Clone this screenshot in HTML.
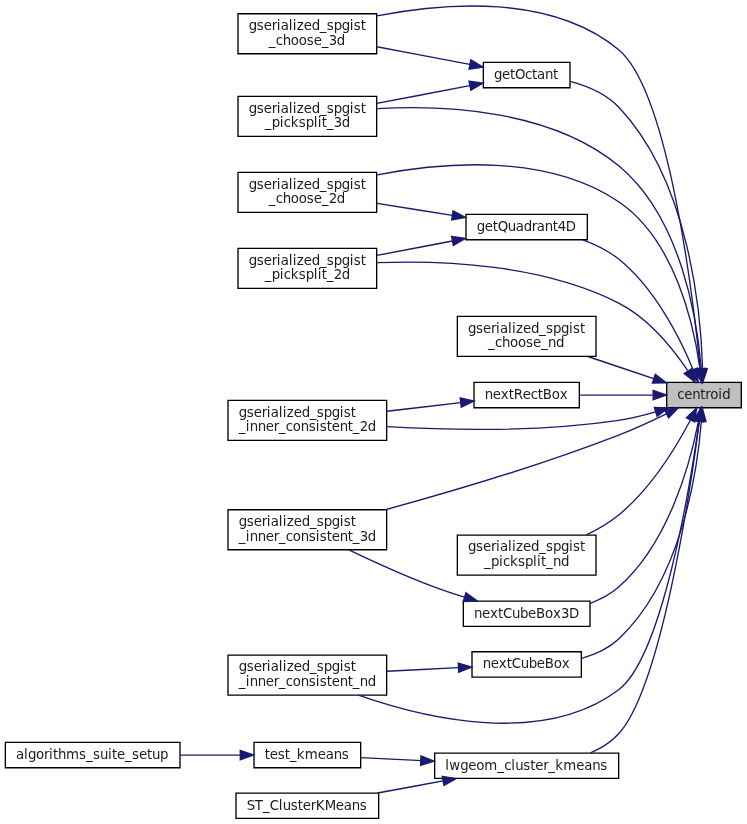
<!DOCTYPE html>
<html lang="en">
<head>
<meta charset="utf-8">
<title>centroid caller graph</title>
<style>
html,body{margin:0;padding:0;background:#fff;}
body{width:747px;height:824px;overflow:hidden;}
svg{display:block;will-change:transform;}
svg text{font-family:"DejaVu Sans","Liberation Sans",sans-serif;font-size:10px;fill:#1c1c1c;}
</style>
</head>
<body>
<svg width="747" height="824" viewBox="0 0 560.25 618">
<g id="graph0" class="graph" transform="translate(4 614.3)">
<polygon fill="white" stroke="none" points="-4,4 -4,-614.3 556,-614.3 556,4 -4,4"/>
<g id="node1" class="node">
<polygon fill="#bfbfbf" stroke="black" points="496,-308.5 496,-327.5 552,-327.5 552,-308.5 496,-308.5"/>
<text x="504 509.25 515.25 521.25 525 528.75 534.75 537.75" y="-315.12">centroid</text>
</g>
<g id="node2" class="node">
<polygon fill="white" stroke="black" points="358.5,-548.5 358.5,-567.5 423.5,-567.5 423.5,-548.5 358.5,-548.5"/>
<text x="366.5 372.5 378.5 382.25 389.75 395 398.75 404.75 410.75" y="-555.12">getOctant</text>
</g>
<g id="edge1" class="edge">
<path fill="none" stroke="midnightblue" d="M522.94,-337.94C521.72,-379.89 513,-477.97 460,-534 450.45,-544.1 436.4,-549.95 423.54,-553.34"/>
<polygon fill="midnightblue" stroke="midnightblue" points="526.44,-337.74 523.11,-327.68 519.44,-337.62 526.44,-337.74"/>
</g>
<g id="node3" class="node">
<polygon fill="white" stroke="black" points="174.5,-574 174.5,-604 278.5,-604 278.5,-574 174.5,-574"/>
<text x="182.5 188.5 193.75 199.75 203.5 206.5 212.5 215.5 218.5 223.75 229.75 235.75 241 246.25 252.25 258.25 261.25 266.5" y="-591.81">gserialized_spgist</text>
<text x="197.5 202.75 208 214 220 226 231.25 237.25 242.5 248.5" y="-580.62">_choose_3d</text>
</g>
<g id="edge8" class="edge">
<path fill="none" stroke="midnightblue" d="M521.18,-337.77C515.69,-392.86 497.26,-546.13 460,-577 409.73,-618.64 330.36,-612.52 278.61,-602.33"/>
<polygon fill="midnightblue" stroke="midnightblue" points="524.69,-337.87 522.16,-327.58 517.72,-337.2 524.69,-337.87"/>
</g>
<g id="node4" class="node">
<polygon fill="white" stroke="black" points="174.5,-512 174.5,-542 278.5,-542 278.5,-512 174.5,-512"/>
<text x="182.5 188.5 193.75 199.75 203.5 206.5 212.5 215.5 218.5 223.75 229.75 235.75 241 246.25 252.25 258.25 261.25 266.5" y="-529.62">gserialized_spgist</text>
<text x="194.5 199.75 205.75 208.75 214 220 225.25 231.25 234.25 237.25 241 246.25 252.25" y="-519.19">_picksplit_3d</text>
</g>
<g id="edge14" class="edge">
<path fill="none" stroke="midnightblue" d="M521.96,-338C518.92,-374.41 506.97,-451.33 460,-490 409.2,-531.82 330.33,-535.68 278.8,-532.77"/>
<polygon fill="midnightblue" stroke="midnightblue" points="525.48,-337.92 522.67,-327.7 518.49,-337.44 525.48,-337.92"/>
</g>
<g id="node5" class="node">
<polygon fill="white" stroke="black" points="345.5,-434.5 345.5,-453.5 436.5,-453.5 436.5,-434.5 345.5,-434.5"/>
<text x="353.5 359.5 365.5 369.25 376.75 382.75 388.75 394.75 398.5 404.5 410.5 414.25 420.25" y="-441.12">getQuadrant4D</text>
</g>
<g id="edge4" class="edge">
<path fill="none" stroke="midnightblue" d="M515.79,-337.25C506.31,-360.07 487.56,-397.79 460,-420 452.2,-426.29 442.64,-430.99 433.17,-434.48"/>
<polygon fill="midnightblue" stroke="midnightblue" points="519.16,-338.24 519.59,-327.66 512.65,-335.66 519.16,-338.24"/>
</g>
<g id="node6" class="node">
<polygon fill="white" stroke="black" points="174.5,-455 174.5,-485 278.5,-485 278.5,-455 174.5,-455"/>
<text x="182.5 188.5 193.75 199.75 203.5 206.5 212.5 215.5 218.5 223.75 229.75 235.75 241 246.25 252.25 258.25 261.25 266.5" y="-472.62">gserialized_spgist</text>
<text x="197.5 202.75 208 214 220 226 231.25 237.25 242.5 248.5" y="-462.19">_choose_2d</text>
</g>
<g id="edge7" class="edge">
<path fill="none" stroke="midnightblue" d="M520.99,-337.67C516.51,-370.14 502.48,-434.22 460,-463 406.68,-499.13 329.55,-492.96 278.97,-483.17"/>
<polygon fill="midnightblue" stroke="midnightblue" points="524.48,-337.96 522.21,-327.61 517.54,-337.12 524.48,-337.96"/>
</g>
<g id="node7" class="node">
<polygon fill="white" stroke="black" points="174.5,-398 174.5,-428 278.5,-428 278.5,-398 174.5,-398"/>
<text x="182.5 188.5 193.75 199.75 203.5 206.5 212.5 215.5 218.5 223.75 229.75 235.75 241 246.25 252.25 258.25 261.25 266.5" y="-415.62">gserialized_spgist</text>
<text x="194.5 199.75 205.75 208.75 214 220 225.25 231.25 234.25 237.25 241 246.25 252.25" y="-405.19">_picksplit_2d</text>
</g>
<g id="edge13" class="edge">
<path fill="none" stroke="midnightblue" d="M511.88,-336.26C500.89,-352.56 482.47,-375.55 460,-387 403,-416.03 328.13,-419.18 278.96,-417.31"/>
<polygon fill="midnightblue" stroke="midnightblue" points="515,-337.89 517.48,-327.58 509.12,-334.1 515,-337.89"/>
</g>
<g id="node8" class="node">
<polygon fill="white" stroke="black" points="339,-347 339,-377 443,-377 443,-347 339,-347"/>
<text x="347 353 358.25 364.25 368 371 377 380 383 388.25 394.25 400.25 405.5 410.75 416.75 422.75 425.75 431" y="-364.62">gserialized_spgist</text>
<text x="362 367.25 372.5 378.5 384.5 390.5 395.75 401.75 407 413" y="-354.19">_choose_nd</text>
</g>
<g id="edge9" class="edge">
<path fill="none" stroke="midnightblue" d="M486.22,-330.35C470.9,-335.5 452.98,-341.52 436.9,-346.92"/>
<polygon fill="midnightblue" stroke="midnightblue" points="487.49,-333.62 495.86,-327.12 485.26,-326.98 487.49,-333.62"/>
</g>
<g id="node9" class="node">
<polygon fill="white" stroke="black" points="167,-284 167,-314 286,-314 286,-284 167,-284"/>
<text x="175 181 186.25 192.25 196 199 205 208 211 216.25 222.25 228.25 233.5 238.75 244.75 250.75 253.75 259" y="-301.62">gserialized_spgist</text>
<text x="175 180.25 183.25 189.25 195.25 201.25 205 210.25 215.5 221.5 227.5 232.75 235.75 241 244.75 250.75 256.75 260.5 265.75 271.75" y="-291.19">_inner_consistent_2d</text>
</g>
<g id="edge10" class="edge">
<path fill="none" stroke="midnightblue" d="M487.65,-305.36C478.74,-302.73 469.11,-300.34 460,-299 401.3,-290.34 333.35,-291.63 286.13,-294.29"/>
<polygon fill="midnightblue" stroke="midnightblue" points="486.75,-308.75 497.34,-308.4 488.84,-302.07 486.75,-308.75"/>
</g>
<g id="node10" class="node">
<polygon fill="white" stroke="black" points="167,-202 167,-232 286,-232 286,-202 167,-202"/>
<text x="175 181 186.25 192.25 196 199 205 208 211 216.25 222.25 228.25 233.5 238.75 244.75 250.75 253.75 259" y="-219.81">gserialized_spgist</text>
<text x="175 180.25 183.25 189.25 195.25 201.25 205 210.25 215.5 221.5 227.5 232.75 235.75 241 244.75 250.75 256.75 260.5 265.75 271.75" y="-208.62">_inner_consistent_3d</text>
</g>
<g id="edge11" class="edge">
<path fill="none" stroke="midnightblue" d="M495.78,-303.95C484.82,-298.59 471.97,-292.65 460,-288 401.58,-265.31 332.7,-245.06 285.16,-232.04"/>
<polygon fill="midnightblue" stroke="midnightblue" points="494.33,-307.14 504.85,-308.47 497.46,-300.88 494.33,-307.14"/>
</g>
<g id="node11" class="node">
<polygon fill="white" stroke="black" points="167,-93 167,-123 286,-123 286,-93 167,-93"/>
<text x="175 181 186.25 192.25 196 199 205 208 211 216.25 222.25 228.25 233.5 238.75 244.75 250.75 253.75 259" y="-111">gserialized_spgist</text>
<text x="175 180.25 183.25 189.25 195.25 201.25 205 210.25 215.5 221.5 227.5 232.75 235.75 241 244.75 250.75 256.75 260.5 265.75 271.75" y="-100">_inner_consistent_nd</text>
</g>
<g id="edge12" class="edge">
<path fill="none" stroke="midnightblue" d="M520.43,-298.47C513.5,-249.14 492.72,-121.7 460,-97 403.23,-54.15 314.63,-75.42 264.79,-92.9"/>
<polygon fill="midnightblue" stroke="midnightblue" points="516.98,-299.06 521.8,-308.49 523.91,-298.11 516.98,-299.06"/>
</g>
<g id="node12" class="node">
<polygon fill="white" stroke="black" points="339,-183 339,-213 443,-213 443,-183 339,-183"/>
<text x="347 353 358.25 364.25 368 371 377 380 383 388.25 394.25 400.25 405.5 410.75 416.75 422.75 425.75 431" y="-201">gserialized_spgist</text>
<text x="359 364.25 370.25 373.25 378.5 384.5 389.75 395.75 398.75 401.75 405.5 410.75 416.75" y="-190">_picksplit_nd</text>
</g>
<g id="edge15" class="edge">
<path fill="none" stroke="midnightblue" d="M513.85,-299.27C503.28,-279.3 484.2,-247.89 460,-228 452.82,-222.1 444.3,-217.15 435.76,-213.08"/>
<polygon fill="midnightblue" stroke="midnightblue" points="510.8,-300.98 518.46,-308.3 517.03,-297.8 510.8,-300.98"/>
</g>
<g id="node13" class="node">
<polygon fill="white" stroke="black" points="322,-30.5 322,-49.5 460,-49.5 460,-30.5 322,-30.5"/>
<text x="330 333 341.25 347.25 353.25 359.25 369 374.25 379.5 382.5 388.5 393.75 397.5 403.5 407.25 412.5 418.5 428.25 434.25 440.25 446.25" y="-36.94">lwgeom_cluster_kmeans</text>
</g>
<g id="edge16" class="edge">
<path fill="none" stroke="midnightblue" d="M520.51,-298.06C513.45,-244.45 491.73,-98.94 460,-64 454.28,-57.7 446.8,-53.05 438.9,-49.62"/>
<polygon fill="midnightblue" stroke="midnightblue" points="517.08,-298.82 521.83,-308.3 524.02,-297.93 517.08,-298.82"/>
</g>
<g id="node17" class="node">
<polygon fill="white" stroke="black" points="350,-106.5 350,-125.5 432,-125.5 432,-106.5 350,-106.5"/>
<text x="358 364 370 376 379.75 386.5 392.5 398.5 404.5 411.25 417.25" y="-113.31">nextCubeBox</text>
</g>
<g id="edge20" class="edge">
<path fill="none" stroke="midnightblue" d="M522.01,-298.31C519.04,-260.93 507.2,-179.49 460,-135 452.42,-127.85 442.37,-123.36 432.34,-120.54"/>
<polygon fill="midnightblue" stroke="midnightblue" points="518.52,-298.65 522.67,-308.4 525.51,-298.19 518.52,-298.65"/>
</g>
<g id="node18" class="node">
<polygon fill="white" stroke="black" points="343.5,-144.5 343.5,-163.5 438.5,-163.5 438.5,-144.5 343.5,-144.5"/>
<text x="351.5 357.5 363.5 369.5 373.25 380 386 392 398 404.75 410.75 416.75 422.75" y="-150.94">nextCubeBox3D</text>
</g>
<g id="edge22" class="edge">
<path fill="none" stroke="midnightblue" d="M519.83,-298.29C513.8,-267.29 497.75,-207.26 460,-174 453.91,-168.63 446.43,-164.7 438.7,-161.83"/>
<polygon fill="midnightblue" stroke="midnightblue" points="516.41,-299.07 521.62,-308.3 523.3,-297.84 516.41,-299.07"/>
</g>
<g id="node19" class="node">
<polygon fill="white" stroke="black" points="351.5,-308.5 351.5,-327.5 430.5,-327.5 430.5,-308.5 351.5,-308.5"/>
<text x="359.5 365.5 371.5 377.5 381.25 388 394 399.25 403 409.75 415.75" y="-315.12">nextRectBox</text>
</g>
<g id="edge24" class="edge">
<path fill="none" stroke="midnightblue" d="M485.59,-318C468.35,-318 447.91,-318 430.54,-318"/>
<polygon fill="midnightblue" stroke="midnightblue" points="485.86,-321.5 495.86,-318 485.86,-314.5 485.86,-321.5"/>
</g>
<g id="edge2" class="edge">
<path fill="none" stroke="midnightblue" d="M348.28,-565.96C327.05,-570.01 301.07,-574.97 278.64,-579.24"/>
<polygon fill="midnightblue" stroke="midnightblue" points="349.12,-569.36 358.28,-564.05 347.8,-562.49 349.12,-569.36"/>
</g>
<g id="edge3" class="edge">
<path fill="none" stroke="midnightblue" d="M348.28,-550.04C327.05,-545.99 301.07,-541.03 278.64,-536.76"/>
<polygon fill="midnightblue" stroke="midnightblue" points="347.8,-553.51 358.28,-551.95 349.12,-546.64 347.8,-553.51"/>
</g>
<g id="edge5" class="edge">
<path fill="none" stroke="midnightblue" d="M335.26,-452.76C317.01,-455.68 296.76,-458.92 278.79,-461.79"/>
<polygon fill="midnightblue" stroke="midnightblue" points="335.84,-456.21 345.17,-451.17 334.74,-449.3 335.84,-456.21"/>
</g>
<g id="edge6" class="edge">
<path fill="none" stroke="midnightblue" d="M335.26,-433.56C317.01,-430.08 296.76,-426.21 278.79,-422.78"/>
<polygon fill="midnightblue" stroke="midnightblue" points="334.69,-437.01 345.17,-435.45 336,-430.14 334.69,-437.01"/>
</g>
<g id="node14" class="node">
<polygon fill="white" stroke="black" points="173,-0.5 173,-19.5 280,-19.5 280,-0.5 173,-0.5"/>
<text x="181 187 193 198.25 205 208 214 219.25 223 229 232.75 239.5 247.75 253.75 259.75 265.75" y="-6.94">ST_ClusterKMeans</text>
</g>
<g id="edge17" class="edge">
<path fill="none" stroke="midnightblue" d="M328.22,-28.6C312.03,-25.61 294.75,-22.42 279.15,-19.54"/>
<polygon fill="midnightblue" stroke="midnightblue" points="327.67,-32.05 338.14,-30.43 328.94,-25.17 327.67,-32.05"/>
</g>
<g id="node15" class="node">
<polygon fill="white" stroke="black" points="186.5,-38.5 186.5,-57.5 266.5,-57.5 266.5,-38.5 186.5,-38.5"/>
<text x="194.5 198.25 204.25 209.5 213.25 218.5 224.5 234.25 240.25 246.25 252.25" y="-45.12">test_kmeans</text>
</g>
<g id="edge18" class="edge">
<path fill="none" stroke="midnightblue" d="M311.39,-43.87C295.86,-44.63 280.19,-45.41 266.67,-46.07"/>
<polygon fill="midnightblue" stroke="midnightblue" points="311.74,-47.36 321.56,-43.37 311.4,-40.37 311.74,-47.36"/>
</g>
<g id="node16" class="node">
<polygon fill="white" stroke="black" points="0,-38.5 0,-57.5 131,-57.5 131,-38.5 0,-38.5"/>
<text x="8 14 17 23 29 32.75 35.75 39.5 45.5 55.25 60.5 65.75 71 77 80 83.75 89.75 95 100.25 106.25 110 116" y="-45.12">algorithms_suite_setup</text>
</g>
<g id="edge19" class="edge">
<path fill="none" stroke="midnightblue" d="M176.11,-48C161.85,-48 146.07,-48 131.03,-48"/>
<polygon fill="midnightblue" stroke="midnightblue" points="176.2,-51.5 186.2,-48 176.2,-44.5 176.2,-51.5"/>
</g>
<g id="edge21" class="edge">
<path fill="none" stroke="midnightblue" d="M339.61,-113.52C322.71,-112.69 303.71,-111.75 286.23,-110.89"/>
<polygon fill="midnightblue" stroke="midnightblue" points="339.67,-117.03 349.83,-114.02 340.02,-110.03 339.67,-117.03"/>
</g>
<g id="edge23" class="edge">
<path fill="none" stroke="midnightblue" d="M344.31,-166.47C336.8,-168.8 329.14,-171.34 322,-174 300.04,-182.18 276.02,-193.14 257.68,-201.95"/>
<polygon fill="midnightblue" stroke="midnightblue" points="345.47,-169.78 354.04,-163.55 343.46,-163.07 345.47,-169.78"/>
</g>
<g id="edge25" class="edge">
<path fill="none" stroke="midnightblue" d="M341.54,-312.33C324.12,-310.3 304.27,-307.98 286.08,-305.85"/>
<polygon fill="midnightblue" stroke="midnightblue" points="341.15,-315.81 351.49,-313.5 341.96,-308.86 341.15,-315.81"/>
</g>
</g>
</svg>

</body>
</html>
